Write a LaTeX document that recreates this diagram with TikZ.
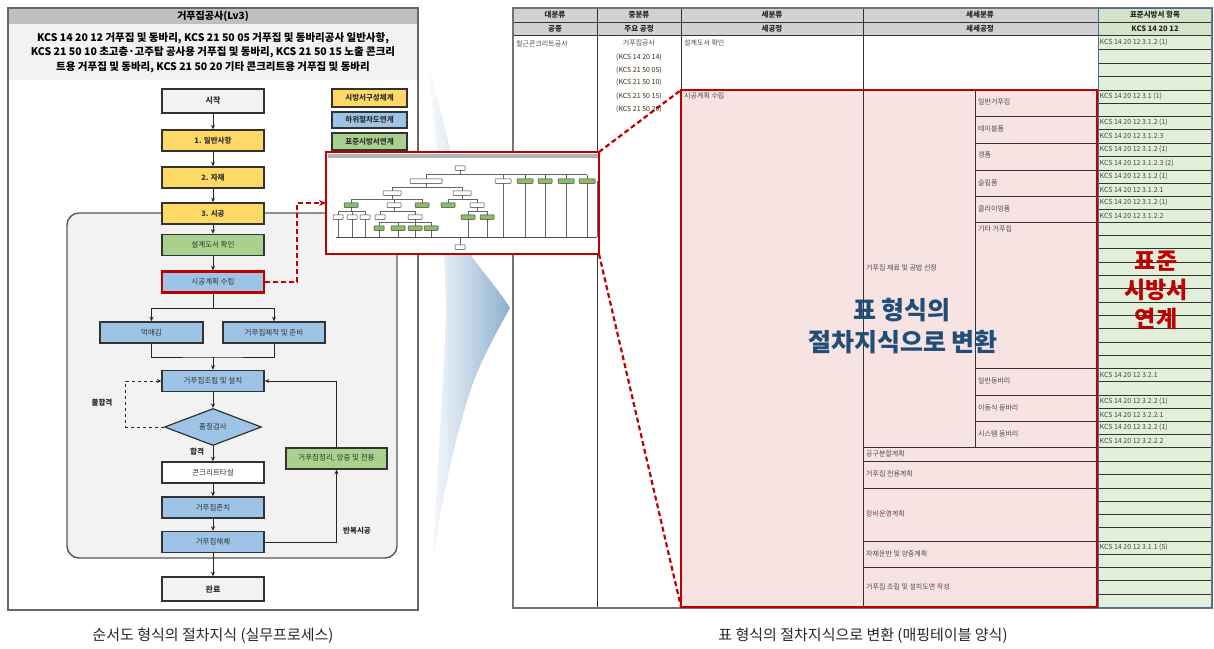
\documentclass[tikz,border=0pt]{standalone}
\usepackage{fontspec}
\setmainfont{Noto Sans CJK KR}
\usetikzlibrary{arrows.meta,shapes.geometric}
\definecolor{yel}{HTML}{FFD966}
\definecolor{blu}{HTML}{9DC3E6}
\definecolor{grn}{HTML}{A9D18E}
\definecolor{lgray}{HTML}{F2F2F2}
\definecolor{dred}{HTML}{C00000}
\definecolor{pinkc}{HTML}{F8E3E3}
\definecolor{lgreen}{HTML}{E2EFDA}
\definecolor{hgreen}{HTML}{D5E3C8}
\definecolor{navy}{HTML}{1F4E79}
\definecolor{tblue}{HTML}{41719C}
\definecolor{chev}{HTML}{7FA6C9}
\definecolor{ktext}{HTML}{3A503A}
\definecolor{mgreen}{HTML}{8CBE64}
\begin{document}
\begin{tikzpicture}[x=1pt,y=-1pt,
  fbox/.style={draw=black!80, line width=1.5pt, minimum width=102pt, minimum height=21pt, inner sep=1pt, font=\fontsize{7.5}{8}\selectfont, text=black!80},
  arr/.style={-{Stealth[length=4.5pt,width=4pt]}, line width=1pt, draw=black!85},
  lbl/.style={font=\fontsize{7.5}{8}\selectfont\bfseries, text=black!85, inner sep=1pt},
  tl/.style={draw=black!80, line width=0.8pt},
  tt/.style={font=\fontsize{7}{8}\selectfont, text=black!70, anchor=west, inner sep=1pt},
  kt/.style={font=\fontsize{7}{8}\selectfont, text=ktext, anchor=west, inner sep=1pt},
  hd/.style={font=\fontsize{7.5}{8}\selectfont\bfseries, text=black!85, inner sep=0pt},
  mw/.style={draw=black!80, line width=0.5pt, fill=white, minimum height=4.5pt, inner sep=0pt, rounded corners=0.6pt},
  mg/.style={mw, fill=mgreen},
  ml/.style={draw=black!60, line width=0.4pt},
  rdash/.style={draw=dred, line width=2.2pt, dash pattern=on 5pt off 3pt}
]
\useasboundingbox (0,0) rectangle (1214,648);

% ---------------- left panel ----------------
\fill[white] (8,8) rectangle (418,610);
\fill[black!25] (8,8) rectangle (418,24);
\fill[lgray] (8,24) rectangle (418,80);
\draw[draw=black!60, line width=1.4pt] (8,8) rectangle (418,610);
\node[font=\fontsize{10}{12}\selectfont\bfseries] (title) at (213,16) {거푸집공사(Lv3)};
\node[font=\fontsize{10.5}{12}\selectfont\bfseries, inner sep=0pt] (kcs1) at (213,38) {KCS 14 20 12 거푸집 및 동바리, KCS 21 50 05 거푸집 및 동바리공사 일반사항,};
\node[font=\fontsize{10.5}{12}\selectfont\bfseries, inner sep=0pt] (kcs2) at (213,52.5) {KCS 21 50 10 초고층·고주탑 공사용 거푸집 및 동바리, KCS 21 50 15 노출 콘크리};
\node[font=\fontsize{10.5}{12}\selectfont\bfseries, inner sep=0pt] (kcs3) at (213,67) {트용 거푸집 및 동바리, KCS 21 50 20 기타 콘크리트용 거푸집 및 동바리};

\draw[draw=black!65, line width=1.4pt, fill=lgray, rounded corners=12pt] (67,213) rectangle (397,558);

% legend
\node[fbox, fill=yel, minimum width=75pt, minimum height=18pt, font=\fontsize{7.5}{8}\selectfont\bfseries] (leg1) at (369.5,98) {시방서구성체계};
\node[fbox, fill=blu, minimum width=75pt, minimum height=16pt, font=\fontsize{7.5}{8}\selectfont\bfseries] (leg2) at (369.5,120) {하위절차도연계};
\node[fbox, fill=grn, minimum width=75pt, minimum height=17pt, font=\fontsize{7.5}{8}\selectfont\bfseries] (leg3) at (369.5,141.5) {표준시방서연계};

% flow boxes
\node[fbox, fill=lgray, minimum height=24pt, font=\fontsize{8}{9}\selectfont\bfseries] (start) at (213,101) {시작};
\node[fbox, fill=yel, font=\fontsize{7.5}{8}\selectfont\bfseries] (s1) at (213,140.5) {1. 일반사항};
\node[fbox, fill=yel, font=\fontsize{7.5}{8}\selectfont\bfseries] (s2) at (213,177.5) {2. 자재};
\node[fbox, fill=yel, font=\fontsize{7.5}{8}\selectfont\bfseries] (s3) at (213,213.5) {3. 시공};
\node[fbox, fill=grn] (design) at (213,245) {설계도서 확인};
\node[fbox, fill=blu, draw=dred, line width=2.2pt] (plan) at (213,282) {시공계획 수립};
\node[fbox, fill=blu, minimum width=103pt] (mark) at (151.5,332.5) {먹매김};
\node[fbox, fill=blu] (fab) at (274,332.5) {거푸집제작 및 준비};
\node[fbox, fill=blu] (assem) at (213,381) {거푸집조립 및 설치};
\node[draw=black!80, line width=1.2pt, fill=blu, diamond, aspect=2.6, minimum width=97pt, minimum height=37pt, inner sep=0pt, font=\fontsize{7.5}{8}\selectfont, text=black!80] (qc) at (213,427) {품질검사};
\node[fbox, fill=white] (pour) at (213,472.5) {콘크리트타설};
\node[fbox, fill=blu] (keep) at (213,507.5) {거푸집존치};
\node[fbox, fill=blu] (strip) at (213,542) {거푸집해체};
\node[fbox, fill=lgray, minimum height=24pt, font=\fontsize{8}{9}\selectfont\bfseries] (done) at (213,589) {완료};
\node[fbox, fill=grn, minimum width=101pt] (reuse) at (336.5,458.5) {거푸집정리, 양중 및 전용};

% connectors
\draw[arr] (start) -- (s1);
\draw[arr] (s1) -- (s2);
\draw[arr] (s2) -- (s3);
\draw[arr] (s3) -- (design);
\draw[arr] (design) -- (plan);
\draw[arr] (plan.south) -- ++(0,15) -| (mark.north);
\draw[arr] (plan.south) -- ++(0,15) -| (fab.north);
\coordinate (merge) at (213,357);
\draw[line width=1pt, draw=black!85] (mark.south) |- (merge) -| (fab.south);
\draw[arr] (merge) -- (assem.north);
\draw[arr] (assem) -- (qc);
\draw[arr] (qc) -- (pour);
\draw[arr, dashed] (qc.west) -- ++(-38,0) |- (assem.west);
\draw[arr] (pour) -- (keep);
\draw[arr] (keep) -- (strip);
\draw[arr] (strip) -- (done);
\draw[arr] (strip.east) -| (reuse.south);
\draw[arr] (reuse.north) |- (assem.east);
\node[lbl] (fail) at (102,403) {불합격};
\node[lbl] (pass) at (197,452) {합격};
\node[lbl] (rep) at (357,531) {반복시공};

% captions
\node[font=\fontsize{15}{18}\selectfont, text=black!85] (cap1) at (213,636) {순서도 형식의 절차지식 (실무프로세스)};
\node[font=\fontsize{15}{18}\selectfont, text=black!85] (cap2) at (863,636) {표 형식의 절차지식으로 변환 (매핑테이블 양식)};

% ---------------- chevron ----------------
\shade[left color=white, right color=chev, opacity=0.9]
  (426,60) .. controls (445,120) and (462,200) .. (472,257)
  .. controls (488,278) and (500,292) .. (510,308)
  .. controls (495,335) and (478,365) .. (468,398)
  .. controls (452,450) and (440,510) .. (433,562)
  .. controls (436,480) and (444,380) .. (446,310)
  .. controls (444,220) and (436,130) .. (426,60) -- cycle;

% ---------------- table ----------------
\fill[black!18] (513,8) rectangle (1098,35);
\fill[hgreen] (1098,8) rectangle (1212,35);
\fill[white] (513,35) rectangle (1098,607);
\fill[lgreen] (1098,35) rectangle (1212,607);
\fill[pinkc] (681,90) rectangle (1097,607);
\draw[tl] (513,22) -- (1212,22);
\draw[tl] (513,35) -- (1212,35);
\draw[tl] (597,8) -- (597,607);
\draw[tl] (681,8) -- (681,90);
\draw[tl] (863,8) -- (863,607);
\draw[tl] (975,90) -- (975,447);
\foreach \y in {116,143,170,196,222,368,395,421} \draw[tl] (975,\y) -- (1097,\y);
\foreach \y in {447,461,488,541,567} \draw[tl] (863,\y) -- (1097,\y);
\foreach \y in {49,63,76,90,103,116,129,143,156,170,183,196,209,222,235,248,262,275,288,302,315,328,342,355,368,381,395,408,421,434,447,461,474,488,501,514,527,541,554,567,580,594}
  \draw[tl] (1098,\y) -- (1212,\y);
\draw[draw=black!55, line width=1.2pt] (513,8) rectangle (1212,608);
\draw[tblue, line width=1pt] (1098,8) rectangle (1212,607);
\draw[dred, line width=1.8pt] (681,90) rectangle (1097,607);
\coordinate (rbNW) at (681,90);
\coordinate (rbSW) at (681,607);

% headers
\node[hd] (h1a) at (555,15) {대분류};
\node[hd] (h1b) at (555,28.5) {공종};
\node[hd] (h2a) at (639,15) {중분류};
\node[hd] (h2b) at (639,28.5) {주요 공정};
\node[hd] (h3a) at (772,15) {세분류};
\node[hd] (h3b) at (772,28.5) {세공정};
\node[hd] (h4a) at (980,15) {세세분류};
\node[hd] (h4b) at (980,28.5) {세세공정};
\node[hd] (h5a) at (1155,15) {표준시방서 항목};
\node[hd] (h5b) at (1155,28.5) {KCS 14 20 12};

% body text
\node[tt] (c1) at (515,44) {철근콘크리트공사};
\node[tt, anchor=center] (c2a) at (639,43) {거푸집공사};
\foreach \y/\t [count=\i] in {57/14 20 14, 70/21 50 05, 82/21 50 10, 96/21 50 15, 109/21 50 20}
  \node[tt, anchor=center, text=black!65!brown, name=cc\i] at (639,\y) {(KCS \t)};
\node[tt] (c3a) at (683,43) {설계도서 확인};
\node[tt] (c3b) at (683,96) {시공계획 수립};
\foreach \y/\t [count=\i] in {102/일반거푸집, 129/테이블폼, 155/갱폼, 183/슬립폼, 209/클라이밍폼, 229/기타 거푸집, 381/일반동바리, 408/이동식 동바리, 434/시스템 동바리}
  \node[tt, name=sc\i] at (977,\y) {\t};
\foreach \y/\t [count=\i] in {268/거푸집 재료 및 공법 선정, 454/공구분할계획, 474/거푸집 전용계획, 514/장비운영계획, 554/자재운반 및 양중계획, 587/거푸집 조립 및 설치도면 작성}
  \node[tt, name=fc\i] at (865,\y) {\t};
\foreach \y/\t [count=\i] in {42/3.1.2 (1), 96.5/3.1 (1), 122.5/3.1.2 (1), 136/3.1.2.3, 149.5/3.1.2 (1), 163/3.1.2.3 (2), 176.5/3.1.2 (1), 189.5/3.1.2.1, 202.5/3.1.2 (1), 215.5/3.1.2.2, 374.5/3.2.1, 401.5/3.2.2 (1), 414.5/3.2.2.1, 427.5/3.2.2 (1), 440.5/3.2.2.2, 547.5/3.1.1 (5)}
  \node[kt, name=k\i] at (1098.5,\y) {KCS 14 20 12 \t};

% overlay texts
\node[font=\fontsize{25}{28}\selectfont\bfseries, text=navy] (ov1) at (902,310) {표 형식의};
\node[font=\fontsize{25}{28}\selectfont\bfseries, text=navy] (ov2) at (903,342) {절차지식으로 변환};
\node[font=\fontsize{23}{29}\selectfont\bfseries, text=dred, align=center] (ov3) at (1156,290) {표준\\시방서\\연계};

% ---------------- thumbnail ----------------
\node[draw=dred, line width=2pt, fill=white, minimum width=273pt, minimum height=102pt, inner sep=0pt, outer sep=0pt] (thumb) at (462.5,203) {};
\fill[black!30] (327.5,153.5) rectangle (597.5,158);
% mini lines
\draw[ml] (460,168) -- (460,174.5);
\draw[ml] (426,174.5) -- (587,174.5);
\foreach \x in {426,503,525,545,566,587} \draw[ml] (\x,174.5) -- (\x,181);
\draw[ml] (426,181) -- (426,187) (392,187) -- (462,187) (392,187) -- (392,193) (462,187) -- (462,193);
\draw[ml] (392,193) -- (392,199) (351,199) -- (422,199);
\foreach \x in {351,394,422} \draw[ml] (\x,199) -- (\x,205);
\draw[ml] (462,193) -- (462,199) (448,199) -- (477,199) (448,199) -- (448,205) (477,199) -- (477,205);
\draw[ml] (351,205) -- (351,211) (338,211) -- (365,211);
\foreach \x in {338,352,365} \draw[ml] (\x,211) -- (\x,237);
\draw[ml] (394,205) -- (394,211) (380,211) -- (415,211) (380,211) -- (380,217) (415,211) -- (415,217);
\draw[ml] (415,217) -- (415,222) (379,222) -- (431,222);
\foreach \x in {379,398,415,431} \draw[ml] (\x,222) -- (\x,237);
\draw[ml] (477,205) -- (477,211) (468,211) -- (487,211);
\foreach \x in {468,487} \draw[ml] (\x,211) -- (\x,237);
\foreach \x in {503,525,545,566,587,597} \draw[ml] (\x,181) -- (\x,237);
\draw[draw=black!70, line width=0.7pt] (336,237) -- (597,237);
\draw[ml] (460,237) -- (460,247);
% mini boxes
\node[mw, minimum width=10pt] (m0) at (460,168) {};
\node[mw, minimum width=32pt] (ma) at (426,181) {};
\node[mw, minimum width=16pt] (mr1) at (503,181) {};
\node[mg, minimum width=16pt] (mr2) at (525,181) {};
\node[mg, minimum width=14pt] (mr3) at (545,181) {};
\node[mg, minimum width=16pt] (mr4) at (566,181) {};
\node[mg, minimum width=16pt] (mr5) at (587,181) {};
\node[mw, minimum width=18pt] (mb1) at (392,193) {};
\node[mw, minimum width=18pt] (mb2) at (462,193) {};
\node[mg, minimum width=14pt] (mc1) at (351,205) {};
\node[mw, minimum width=14pt] (mc2) at (394,205) {};
\node[mg, minimum width=14pt] (mc3) at (422,205) {};
\node[mg, minimum width=14pt] (mc4) at (448,205) {};
\node[mw, minimum width=14pt] (mc5) at (477,205) {};
\node[mw, minimum width=10pt] (md1) at (338,217) {};
\node[mw, minimum width=10pt] (md2) at (352,217) {};
\node[mw, minimum width=10pt] (md3) at (365,217) {};
\node[mw, minimum width=10pt] (md4) at (380,217) {};
\node[mw, minimum width=14pt] (md5) at (415,217) {};
\node[mg, minimum width=14pt] (md6) at (468,217) {};
\node[mg, minimum width=14pt] (md7) at (487,217) {};
\node[mg, minimum width=10pt] (me1) at (379,228) {};
\node[mg, minimum width=14pt] (me2) at (398,228) {};
\node[mg, minimum width=14pt] (me3) at (415,228) {};
\node[mg, minimum width=14pt] (me4) at (431,228) {};
\node[mw, minimum width=10pt] (mend) at (460,247) {};

% red dashed connectors
\draw[rdash, -{Stealth[length=7pt,width=6pt]}] (plan.east) -- ++(32,0) |- (thumb.west);
\draw[rdash] (thumb.north east) -- (rbNW);
\draw[rdash] (thumb.south east) -- (rbSW);
\end{tikzpicture}
\end{document}
